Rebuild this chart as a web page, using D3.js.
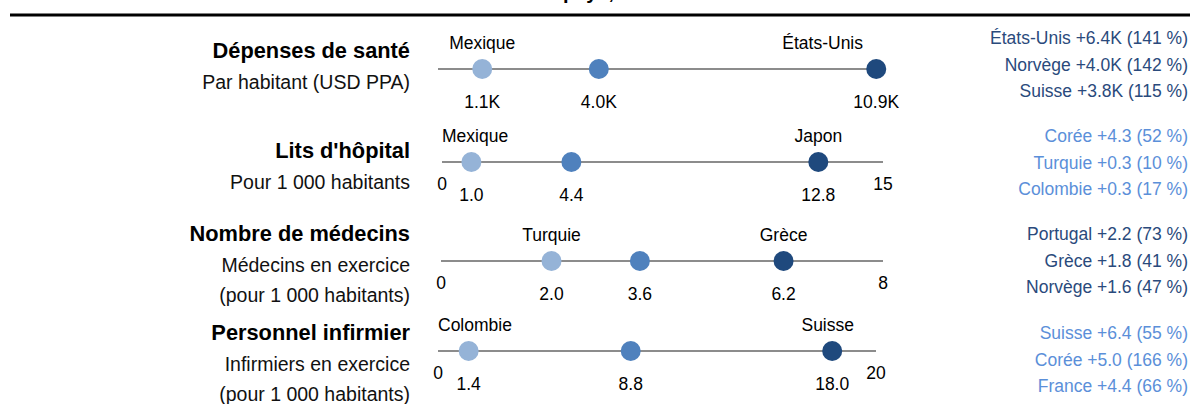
<!DOCTYPE html>
<html>
<head>
<meta charset="utf-8">
<script src="https://cdn.jsdelivr.net/npm/d3@7"></script>
<style>
  body { margin: 0; background: #fff; }
  svg text { font-family: "Liberation Sans", Arial, sans-serif; }
</style>
</head>
<body>
<script>
// --- data ---
var indicators = ["Dépenses de santé", "Lits d'hôpital", "Nombre de médecins", "Personnel infirmier"]
var subtitles = [
    ["Par habitant (USD PPA)"],
    ["Pour 1 000 habitants"],
    ["Médecins en exercice", "(pour 1 000 habitants)"],
    ["Infirmiers en exercice", "(pour 1 000 habitants)"]
]
var minCountry = ["Mexique", "Mexique", "Turquie", "Colombie"]
var maxCountry = ["États-Unis", "Japon", "Grèce", "Suisse"]
var minValues = [1.1, 1.0, 2.0, 1.4]
var avgValues = [4.0, 4.4, 3.6, 8.8]
var maxValues = [10.9, 12.8, 6.2, 18.0]
var axisMax = [null, 15, 8, 20]      // null -> no end ticks, domain padded
var unitSuffix = ["K", "", "", ""]

var gainCountries = [
    ["États-Unis", "Norvège", "Suisse"],
    ["Corée", "Turquie", "Colombie"],
    ["Portugal", "Grèce", "Norvège"],
    ["Suisse", "Corée", "France"]
]
var gainValues = [
    [6.4, 4.0, 3.8],
    [4.3, 0.3, 0.3],
    [2.2, 1.8, 1.6],
    [6.4, 5.0, 4.4]
]
var gainPct = [
    [141, 142, 115],
    [52, 10, 17],
    [73, 41, 47],
    [55, 166, 66]
]

var title = "Indicateurs de santé : écarts entre les pays, OCDE"

// --- layout ---
var width = 1190, height = 404
var rowY = [69, 162, 261, 351]          // dot line centre per row
var lineX = [[438, 885], [442, 883], [441, 883], [438, 876]]
var labelTop = [50, 150, 233, 332]      // centre of bold label
var gainTop = [38, 136, 234, 333]
var dotColors = ["#95b3d7", "#4f81bd", "#1f497d"]
var gainColors = ["#2a4a7c", "#5b8fd9", "#2a4a7c", "#5b8fd9"]

var svg = d3.select("body").append("svg")
    .attr("width", width)
    .attr("height", height)

// title sits above the frame; only its descenders show
var titleText = svg.append("text")
    .attr("y", -1)
    .style("font-size", "20px")
    .style("font-weight", "bold")
    .text(title)
var pIdx = title.indexOf("pays,")
var offset = titleText.node().getSubStringLength(0, pIdx)
titleText.attr("x", 563 - offset)

svg.append("line")
    .attr("x1", 10).attr("x2", width)
    .attr("y1", 15).attr("y2", 15)
    .attr("stroke", "#000")
    .attr("stroke-width", 3)

var fmt = d3.format(".1f")

indicators.forEach(function (name, i) {
    var y = rowY[i]
    var hi = axisMax[i] == null ? maxValues[i] * 1.02 : axisMax[i]
    var x = d3.scaleLinear().domain([0, hi]).range(lineX[i])
    var g = svg.append("g").attr("class", "row")

    // left labels
    g.append("text")
        .attr("x", 410).attr("y", labelTop[i]).attr("dy", "0.35em")
        .attr("text-anchor", "end")
        .style("font-size", "21.8px").style("font-weight", "bold")
        .text(name)
    g.selectAll(".sub")
        .data(subtitles[i])
        .enter().append("text")
        .attr("class", "sub")
        .attr("x", 410)
        .attr("y", (d, k) => labelTop[i] + 32 + k * 30)
        .attr("dy", "0.35em")
        .attr("text-anchor", "end")
        .style("font-size", "19.5px")
        .style("fill", "#111")
        .text(d => d)

    // line
    g.append("line")
        .attr("x1", x.range()[0]).attr("x2", x.range()[1])
        .attr("y1", y).attr("y2", y)
        .attr("stroke", "#8c8c8c")
        .attr("stroke-width", 2)

    if (axisMax[i] != null) {
        g.selectAll(".end")
            .data(x.domain())
            .enter().append("text")
            .attr("class", "end")
            .attr("x", d => x(d))
            .attr("y", y + 22).attr("dy", "0.35em")
            .attr("text-anchor", "middle")
            .style("font-size", "17.5px")
            .text(d => d3.format("d")(d))
    }

    var pts = [minValues[i], avgValues[i], maxValues[i]]
    g.selectAll("circle")
        .data(pts)
        .enter().append("circle")
        .attr("cx", d => x(d))
        .attr("cy", y)
        .attr("r", 10)
        .attr("fill", (d, k) => dotColors[k])

    g.selectAll(".val")
        .data(pts)
        .enter().append("text")
        .attr("class", "val")
        .attr("x", d => x(d))
        .attr("y", y + 33).attr("dy", "0.35em")
        .attr("text-anchor", "middle")
        .style("font-size", "17.5px")
        .text(d => fmt(d) + unitSuffix[i])

    // country names over min and max dots, kept inside the line
    var names = [[minCountry[i], minValues[i]], [maxCountry[i], maxValues[i]]]
    g.selectAll(".ctry")
        .data(names)
        .enter().append("text")
        .attr("class", "ctry")
        .attr("y", y - 26).attr("dy", "0.35em")
        .attr("text-anchor", "middle")
        .style("font-size", "17.5px")
        .text(d => d[0])
        .attr("x", function (d) {
            var w = this.getComputedTextLength()
            var cx = x(d[1])
            cx = Math.max(cx, x.range()[0] + w / 2)
            cx = Math.min(cx, x.range()[1] - 22 - w / 2)
            return cx
        })

    // top gainers on the right
    g.selectAll(".gain")
        .data(gainCountries[i])
        .enter().append("text")
        .attr("class", "gain")
        .attr("x", 1188)
        .attr("y", (d, k) => gainTop[i] + k * 26.5)
        .attr("dy", "0.35em")
        .attr("text-anchor", "end")
        .style("font-size", "17.5px")
        .style("fill", gainColors[i])
        .text((d, k) => d + " +" + fmt(gainValues[i][k]) + unitSuffix[i] + " (" + gainPct[i][k] + " %)")
})
</script>
</body>
</html>
